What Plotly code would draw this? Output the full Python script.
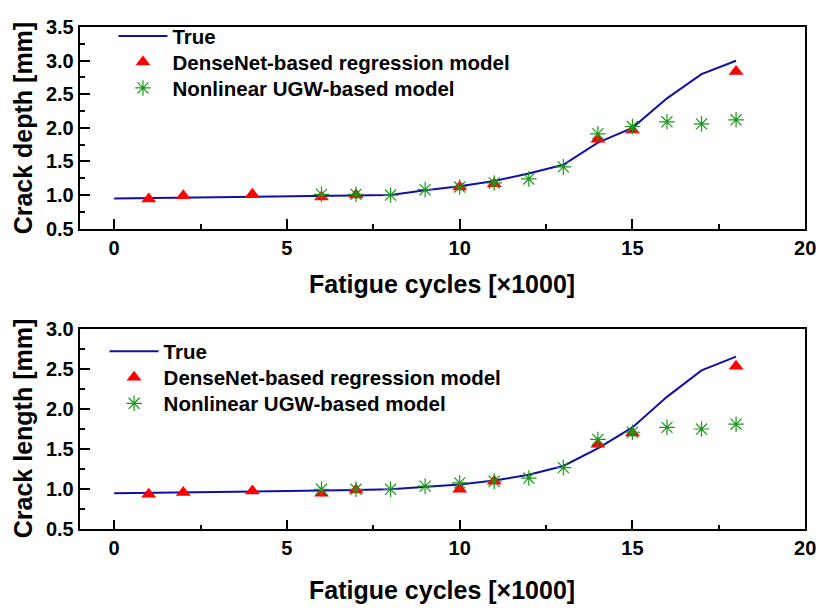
import plotly.graph_objects as go

# ---- data ----
cycles_true = [0, 1, 2, 4, 6, 7, 8, 9, 10, 11, 12, 13, 14, 15, 16, 17, 18]
depth_true = [0.95, 0.955, 0.96, 0.97, 0.98, 0.99, 1.0, 1.07, 1.13, 1.21, 1.32, 1.45, 1.78, 2.0, 2.44, 2.8, 3.0]
length_true = [0.95, 0.955, 0.96, 0.97, 0.98, 0.99, 1.0, 1.03, 1.06, 1.11, 1.18, 1.29, 1.51, 1.77, 2.15, 2.48, 2.65]

cycles_dense = [1, 2, 4, 6, 7, 10, 11, 14, 15, 18]
depth_dense = [0.94, 0.99, 1.01, 0.97, 1.0, 1.12, 1.17, 1.83, 1.97, 2.84]
length_dense = [0.94, 0.96, 0.98, 0.95, 0.99, 1.0, 1.1, 1.56, 1.7, 2.53]

cycles_ugw = [6, 7, 8, 9, 10, 11, 12, 13, 14, 15, 16, 17, 18]
depth_ugw = [1.01, 1.01, 1.0, 1.08, 1.12, 1.18, 1.24, 1.42, 1.91, 2.02, 2.09, 2.06, 2.12]
length_ugw = [1.0, 1.0, 1.0, 1.04, 1.08, 1.1, 1.14, 1.27, 1.62, 1.71, 1.77, 1.75, 1.81]

names = ["True", "DenseNet-based regression model", "Nonlinear UGW-based model"]
x_ticks = [0, 5, 10, 15, 20]

FONT = "Liberation Sans, Arial, sans-serif"
W, H = 829, 616
BLUE = "#1010a8"
GREEN = "#1a9a1a"

fig = go.Figure()

def add_set(xa, ya, legs, ytrue, ydense, yugw):
    fig.add_trace(go.Scatter(x=cycles_true, y=ytrue, mode="lines", name=names[0],
                             line=dict(color=BLUE, width=2), xaxis=xa, yaxis=ya, legend=legs[0]))
    fig.add_trace(go.Scatter(x=cycles_dense, y=ydense, mode="markers", name=names[1],
                             marker=dict(symbol="triangle-up", size=13, color="#ff0000",
                                         line=dict(width=0)),
                             xaxis=xa, yaxis=ya, legend=legs[1]))
    fig.add_trace(go.Scatter(x=cycles_ugw, y=yugw, mode="markers", name=names[2],
                             marker=dict(symbol="asterisk-open", size=13, color=GREEN,
                                         line=dict(color=GREEN, width=1.2)),
                             xaxis=xa, yaxis=ya, legend=legs[2]))

add_set("x", "y", ["legend", "legend2", "legend3"], depth_true, depth_dense, depth_ugw)
add_set("x2", "y2", ["legend4", "legend5", "legend6"], length_true, length_dense, length_ugw)

xdom = [80.7 / W, 816 / W]
top_dom = [(H - 225.7) / H, (H - 16.7) / H]
bot_dom = [(H - 537.7) / H, (H - 329.3) / H]

tickfont = dict(family=FONT, size=20, color="black", weight="bold")
common_axis = dict(showline=True, linecolor="black", linewidth=1.8, mirror=True,
                   ticks="inside", ticklen=10, tickwidth=1.8, tickcolor="black",
                   showgrid=False, zeroline=False, tickfont=tickfont)

xaxis_cfg = dict(common_axis, range=[-1, 20], tickvals=x_ticks, domain=xdom,
                 minor=dict(ticks="inside", ticklen=5, tickwidth=1.8, tickcolor="black", dtick=2.5, tick0=0))

legfont = dict(family=FONT, size=20.5, color="black", weight="bold")

def leg(xpx, ypx):
    return dict(x=xpx / W, y=(H - ypx) / H, xanchor="left", yanchor="middle",
                bgcolor="rgba(0,0,0,0)", font=legfont, tracegroupgap=0, itemwidth=49)

fig.update_layout(
    width=W, height=H,
    margin=dict(l=0, r=0, t=0, b=0),
    paper_bgcolor="white", plot_bgcolor="white",
    font=dict(family=FONT, color="black"),
    xaxis=dict(xaxis_cfg, anchor="y"),
    xaxis2=dict(xaxis_cfg, anchor="y2"),
    yaxis=dict(common_axis, range=[0.5, 3.5], dtick=0.5, tick0=0.5, tickformat=".1f",
               domain=top_dom, anchor="x",
               minor=dict(ticks="inside", ticklen=5, tickwidth=1.8, tickcolor="black", dtick=0.25, tick0=0.5)),
    yaxis2=dict(common_axis, range=[0.5, 3.0], dtick=0.5, tick0=0.5, tickformat=".1f",
                domain=bot_dom, anchor="x2",
                minor=dict(ticks="inside", ticklen=5, tickwidth=1.8, tickcolor="black", dtick=0.25, tick0=0.5)),
    legend=leg(115, 26), legend2=leg(115, 53), legend3=leg(115, 80),
    legend4=leg(106, 353), legend5=leg(106, 380), legend6=leg(106, 407),
    showlegend=True,
)

titlefont = dict(family=FONT, size=25, color="black", weight="bold")
for yc in (283, 600):
    fig.add_annotation(text="Fatigue cycles [\u00d71000]", x=448 / W, y=(H - yc) / H,
                       xref="paper", yref="paper", showarrow=False,
                       xanchor="center", yanchor="middle", font=titlefont)
for txt, yc in [("Crack depth [mm]", 121), ("Crack length [mm]", 433)]:
    fig.add_annotation(text=txt, x=23 / W, y=(H - yc) / H, xref="paper", yref="paper",
                       showarrow=False, xanchor="center", yanchor="middle", textangle=-90, font=titlefont)

fig.write_html("out.html")
